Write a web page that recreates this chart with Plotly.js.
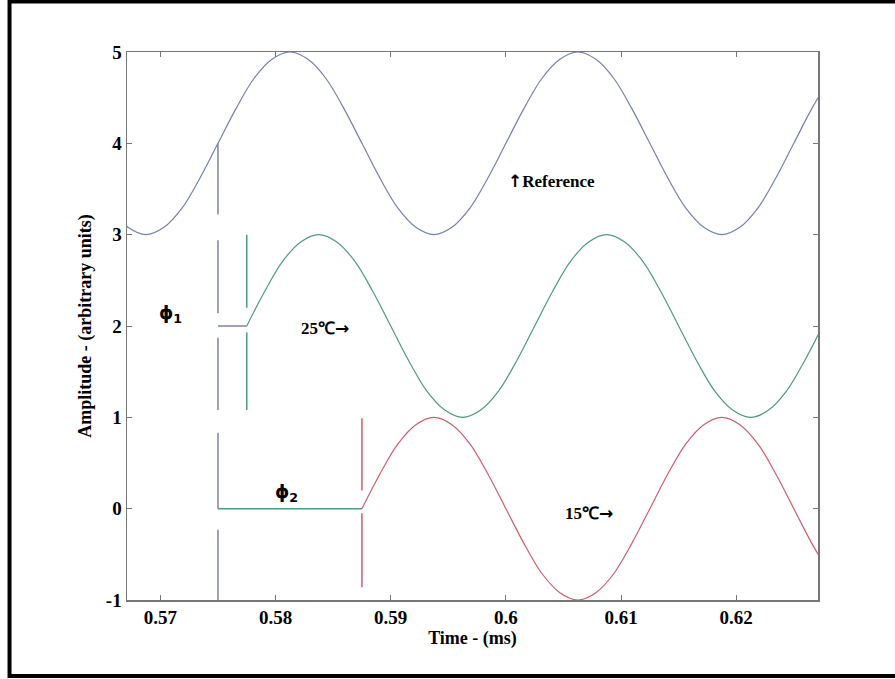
<!DOCTYPE html>
<html>
<head>
<meta charset="utf-8">
<script src="https://cdn.plot.ly/plotly-3.0.1.min.js"></script>
<style>
html,body{margin:0;padding:0;background:#fff;}
#chart{width:895px;height:679px;}
</style>
</head>
<body>
<div id="chart"></div>
<script>
// Reference signal
var refTime = [0.565625,0.5671875,0.56875,0.5703125,0.571875,0.5734375,0.575,0.5765625,0.578125,0.5796875,
  0.58125,0.5828125,0.584375,0.5859375,0.5875,0.5890625,0.590625,0.5921875,0.59375,0.5953125,
  0.596875,0.5984375,0.6,0.6015625,0.603125,0.6046875,0.60625,0.6078125,0.609375,0.6109375,
  0.6125,0.6140625,0.615625,0.6171875,0.61875,0.6203125,0.621875,0.6234375,0.625,0.6265625,0.628125];
var refAmp = [3.29,3.08,3.0,3.08,3.29,3.62,4.0,4.38,4.71,4.92,
  5.0,4.92,4.71,4.38,4.0,3.62,3.29,3.08,3.0,3.08,
  3.29,3.62,4.0,4.38,4.71,4.92,5.0,4.92,4.71,4.38,
  4.0,3.62,3.29,3.08,3.0,3.08,3.29,3.62,4.0,4.38,4.71];

// 25 C signal
var time25 = [0.5775,0.5790625,0.580625,0.5821875,0.58375,0.5853125,0.586875,0.5884375,0.59,0.5915625,
  0.593125,0.5946875,0.59625,0.5978125,0.599375,0.6009375,0.6025,0.6040625,0.605625,0.6071875,
  0.60875,0.6103125,0.611875,0.6134375,0.615,0.6165625,0.618125,0.6196875,0.62125,0.6228125,
  0.624375,0.6259375,0.6275];
var amp25 = [2.0,2.38,2.71,2.92,3.0,2.92,2.71,2.38,2.0,1.62,
  1.29,1.08,1.0,1.08,1.29,1.62,2.0,2.38,2.71,2.92,
  3.0,2.92,2.71,2.38,2.0,1.62,1.29,1.08,1.0,1.08,
  1.29,1.62,2.0];

// 15 C signal
var time15 = [0.5875,0.5890625,0.590625,0.5921875,0.59375,0.5953125,0.596875,0.5984375,0.6,0.6015625,
  0.603125,0.6046875,0.60625,0.6078125,0.609375,0.6109375,0.6125,0.6140625,0.615625,0.6171875,
  0.61875,0.6203125,0.621875,0.6234375,0.625,0.6265625,0.628125];
var amp15 = [0.0,0.38,0.71,0.92,1.0,0.92,0.71,0.38,0.0,-0.38,
  -0.71,-0.92,-1.0,-0.92,-0.71,-0.38,0.0,0.38,0.71,0.92,
  1.0,0.92,0.71,0.38,0.0,-0.38,-0.71];

// Phase markers
var startTime = 0.575;
var phi1Time = 0.5775;
var phi2Time = 0.5875;
var refMarkSegY = [4.0,3.22,null,2.94,2.14,null,1.87,1.08,null,0.83,0.0,null,-0.23,-1.0];
var mark25SegY = [3.0,2.2,null,1.93,1.08];
var mark15SegY = [0.99,0.2,null,-0.05,-0.86];
var phi1Level = 2;
var phi2Level = 0;

// Ticks
var xTickVals = [0.57,0.58,0.59,0.6,0.61,0.62];
var xTickText = ['0.57','0.58','0.59','0.6','0.61','0.62'];
var yTickVals = [-1,0,1,2,3,4,5];
var yTickText = ['-1','0','1','2','3','4','5'];

var cRef = '#7480b0', c25 = '#4f9a7c', c15 = '#c8606e', cMark = '#7d84a2';

function xs(v, arr){ return arr.map(function(a){ return a === null ? null : v; }); }

var traces = [
  {x: refTime, y: refAmp, mode:'lines', line:{color:cRef, width:1.2, shape:'spline', smoothing:1}, hoverinfo:'skip'},
  {x: time25, y: amp25, mode:'lines', line:{color:c25, width:1.2, shape:'spline', smoothing:1}, hoverinfo:'skip'},
  {x: time15, y: amp15, mode:'lines', line:{color:c15, width:1.2, shape:'spline', smoothing:1}, hoverinfo:'skip'},
  {x: xs(startTime, refMarkSegY), y: refMarkSegY, mode:'lines', connectgaps:false, line:{color:cMark, width:1.5}, hoverinfo:'skip'},
  {x: xs(phi1Time, mark25SegY), y: mark25SegY, mode:'lines', connectgaps:false, line:{color:c25, width:1.5}, hoverinfo:'skip'},
  {x: xs(phi2Time, mark15SegY), y: mark15SegY, mode:'lines', connectgaps:false, line:{color:c15, width:1.5}, hoverinfo:'skip'},
  {x: [startTime, phi1Time], y: [phi1Level, phi1Level], mode:'lines', line:{color:cMark, width:1.5}, hoverinfo:'skip'},
  {x: [startTime, phi2Time], y: [phi2Level, phi2Level], mode:'lines', line:{color:c25, width:1.5}, hoverinfo:'skip'}
];

var serif = 'Liberation Serif, Times New Roman, serif';
var arrowSpan = function(a){ return '<span style="font-family:DejaVu Sans">' + a + '</span>'; };
var axisCommon = {
  showgrid:false, zeroline:false, showline:true, linecolor:'#777', linewidth:1.5,
  mirror:'ticks', ticks:'inside', ticklen:5, tickcolor:'#777', tickwidth:1,
  tickfont:{family:serif, size:19, color:'#000', weight:'bold'}
};

var layout = {
  width:895, height:679,
  margin:{l:127, r:77, t:52, b:79},
  paper_bgcolor:'#fff', plot_bgcolor:'#fff',
  showlegend:false,
  xaxis: Object.assign({}, axisCommon, {
    range:[0.5671,0.6271], tickvals:xTickVals, ticktext:xTickText,
    title:{text:'<b>Time - (ms)</b>', font:{family:serif, size:18, color:'#000'}, standoff:1}
  }),
  yaxis: Object.assign({}, axisCommon, {
    range:[-1,5], tickvals:yTickVals, ticktext:yTickText,
    title:{text:'<b>Amplitude - (arbitrary units)</b>', font:{family:serif, size:18, color:'#000'}, standoff:9}
  }),
  annotations:[
    {x:0.6, y:3.59, xref:'x', yref:'y', xanchor:'left', yanchor:'middle', showarrow:false,
     text:'<b>' + arrowSpan('↑') + 'Reference</b>', font:{family:serif, size:17, color:'#000'}},
    {x:0.582, y:1.98, xref:'x', yref:'y', xanchor:'left', yanchor:'middle', showarrow:false,
     text:'<b>25℃' + arrowSpan('→') + '</b>', font:{family:serif, size:17, color:'#000'}},
    {x:0.605, y:-0.05, xref:'x', yref:'y', xanchor:'left', yanchor:'middle', showarrow:false,
     text:'<b>15℃' + arrowSpan('→') + '</b>', font:{family:serif, size:17, color:'#000'}},
    {x:0.5697, y:2.13, xref:'x', yref:'y', xanchor:'left', yanchor:'middle', showarrow:false,
     text:'<b>ϕ<sub>1</sub></b>', font:{family:'DejaVu Sans, sans-serif', size:18, color:'#000'}},
    {x:0.5798, y:0.17, xref:'x', yref:'y', xanchor:'left', yanchor:'middle', showarrow:false,
     text:'<b>ϕ<sub>2</sub></b>', font:{family:'DejaVu Sans, sans-serif', size:18, color:'#000'}}
  ],
  shapes:[
    {type:'rect', xref:'paper', yref:'paper', x0:-0.17, x1:1.2, y0:-0.1387, y1:1.092,
     line:{color:'#000', width:4}, fillcolor:'rgba(0,0,0,0)', layer:'above'}
  ]
};

Plotly.newPlot('chart', traces, layout, {staticPlot:true, displayModeBar:false});
</script>
</body>
</html>
